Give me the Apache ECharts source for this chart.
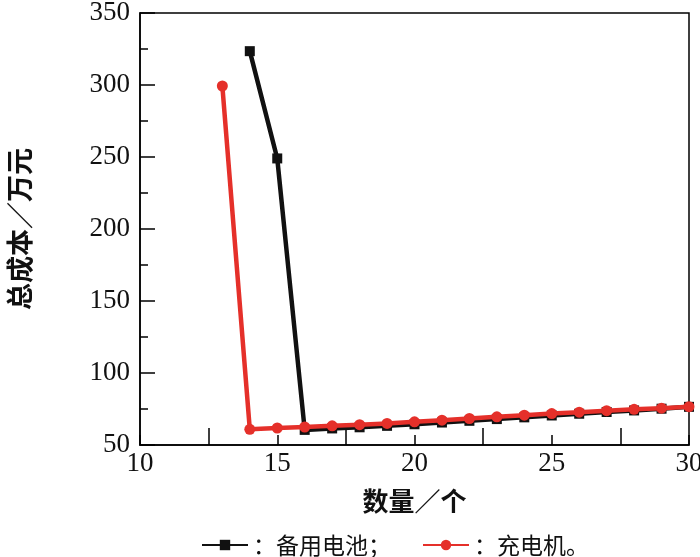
<!DOCTYPE html>
<html><head><meta charset="utf-8">
<script src="https://cdn.jsdelivr.net/npm/echarts@6/dist/echarts.min.js"></script>
<style>html,body{margin:0;padding:0;background:#fff}#c{width:700px;height:557px}</style>
</head><body><div id="c"></div>
<script>
const batteryX = [14, 15, 16, 17, 18, 19, 20, 21, 22, 23, 24, 25, 26, 27, 28, 29, 30];
const batteryY = [323.5, 249, 60.5, 61.5, 62.3, 63.3, 64.4, 65.6, 66.8, 68.0, 69.2, 70.5, 71.7, 72.9, 74.0, 75.2, 76.5];
const chargerX = [13, 14, 15, 16, 17, 18, 19, 20, 21, 22, 23, 24, 25, 26, 27, 28, 29, 30];
const chargerY = [299.3, 60.9, 61.8, 62.5, 63.3, 64.1, 65.0, 66.1, 67.2, 68.4, 69.6, 70.7, 71.8, 72.8, 73.8, 74.8, 75.6, 76.6];
const seriesNames = ['备用电池', '充电机'];
const legendTexts = ['：备用电池；', '：充电机。'];
const xTitle = '数量／个';
const yTitle = '总成本／万元';

const chart = echarts.init(document.getElementById('c'));
const serif = '"Liberation Serif", "Times New Roman", serif';
const cjk = '"Noto Sans CJK SC", sans-serif';
chart.setOption({
  animation: false,
  grid: { left: 140, right: 11, top: 13, bottom: 112, show: true, borderColor: '#000', borderWidth: 1.5,
          backgroundColor: 'transparent', containLabel: false, outerBoundsMode: 'none' },
  legend: {
    top: 533, left: 201, padding: 0, itemWidth: 46, itemHeight: 13, itemGap: 31,
    data: seriesNames,
    formatter: n => legendTexts[seriesNames.indexOf(n)],
    lineStyle: { width: 2 },
    textStyle: { fontFamily: cjk, fontSize: 23, lineHeight: 24, color: '#111', padding: 0 }
  },
  xAxis: {
    type: 'value', min: 10, max: 30, interval: 5,
    name: xTitle, nameLocation: 'middle', nameGap: 43,
    nameTextStyle: { fontFamily: cjk, fontSize: 26, fontWeight: 'bold', color: '#111' },
    axisLine: { lineStyle: { color: '#000', width: 1.5 } },
    axisTick: { inside: true, length: 10, lineStyle: { color: '#000', width: 1.5 } },
    minorTick: { show: true, splitNumber: 2, length: 17, lineStyle: { color: '#000', width: 1.5 } },
    axisLabel: { fontFamily: serif, fontSize: 27, color: '#111', margin: 5 },
    splitLine: { show: false }
  },
  yAxis: {
    type: 'value', min: 50, max: 350, interval: 50,
    name: yTitle, nameLocation: 'middle', nameGap: 107, nameRotate: 90,
    nameTextStyle: { fontFamily: cjk, fontSize: 27, fontWeight: 'bold', color: '#111' },
    axisLine: { lineStyle: { color: '#000', width: 1.5 } },
    axisTick: { inside: true, length: 15, lineStyle: { color: '#000', width: 1.5 } },
    minorTick: { show: true, splitNumber: 2, length: 8, lineStyle: { color: '#000', width: 1.5 } },
    axisLabel: { fontFamily: serif, fontSize: 27, color: '#111', margin: 10 },
    splitLine: { show: false }
  },
  series: [
    {
      name: seriesNames[0], type: 'line', data: batteryX.map((x, i) => [x, batteryY[i]]),
      symbol: 'rect', symbolSize: 10, z: 2,
      lineStyle: { color: '#111', width: 4.5 }, itemStyle: { color: '#111' }
    },
    {
      name: seriesNames[1], type: 'line', data: chargerX.map((x, i) => [x, chargerY[i]]),
      symbol: 'circle', symbolSize: 11, z: 3,
      lineStyle: { color: '#e5302a', width: 4.5 }, itemStyle: { color: '#e5302a' }
    }
  ]
});
</script></body></html>
